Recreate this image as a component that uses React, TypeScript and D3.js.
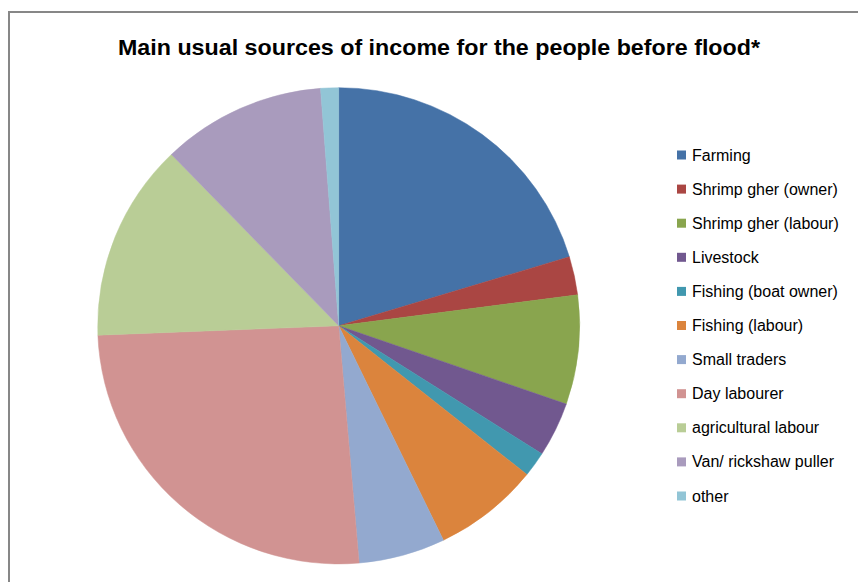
import React from "react";
import * as d3 from "d3";

const categories = [
  "Farming",
  "Shrimp gher (owner)",
  "Shrimp gher (labour)",
  "Livestock",
  "Fishing (boat owner)",
  "Fishing (labour)",
  "Small traders",
  "Day labourer",
  "agricultural labour",
  "Van/ rickshaw puller",
  "other",
];
const values = [20.3, 2.6, 7.4, 3.7, 1.7, 7.1, 5.8, 25.7, 13.4, 11.0, 1.2];
const colors = [
  "#4572A7",
  "#AA4643",
  "#89A54E",
  "#71588F",
  "#4198AF",
  "#DB843D",
  "#93A9CF",
  "#D19392",
  "#B9CD96",
  "#A99BBD",
  "#92C5D6",
];
const title = "Main usual sources of income for the people before flood*";

export default function App() {
  const W = 858;
  const H = 582;
  const cx = 338.7;
  const cy = 325.8;
  const r = 241;
  const data = categories.map((c, i) => ({ c, v: values[i], col: colors[i] }));
  const pie = d3.pie<any>().value((d: any) => d.v).sort(null);
  const arcs = pie(data);
  const arc = d3.arc<any>().innerRadius(0).outerRadius(r);
  const legendY = d3.scalePoint<string>().domain(categories).range([155, 496]);
  return (
    <svg
      width={W}
      height={H}
      style={{ position: "absolute", left: 0, top: 0, background: "#fff" }}
    >
      <rect x={0} y={0} width={W} height={H} fill="#fff" />
      <path d={`M9,${H} V12 H${W}`} fill="none" stroke="#878787" strokeWidth={2} />
      <text
        x={439}
        y={55}
        textAnchor="middle"
        fontFamily="'Liberation Sans', Arial, sans-serif"
        fontWeight="bold"
        fontSize={22.5}
        textLength={642}
        lengthAdjust="spacingAndGlyphs"
        fill="#000"
      >
        {title}
      </text>
      <g transform={`translate(${cx},${cy}) scale(1,0.988)`}>
        {arcs.map((a, i) => (
          <path key={i} d={arc(a) as string} fill={a.data.col} stroke={a.data.col} strokeWidth={0.5} />
        ))}
      </g>
      <g fontFamily="'Liberation Sans', Arial, sans-serif" fontSize={16} fill="#000">
        {categories.map((c, i) => (
          <g key={c} transform={`translate(0,${legendY(c)})`}>
            <rect x={677} y={-4.5} width={9} height={9} fill={colors[i]} />
            <text x={692} y={5.5}>
              {c}
            </text>
          </g>
        ))}
      </g>
    </svg>
  );
}
